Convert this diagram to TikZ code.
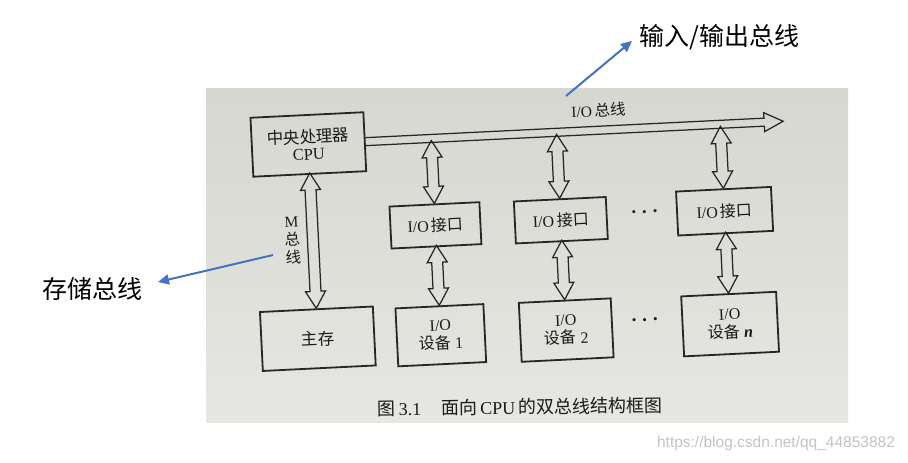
\documentclass[tikz,border=0pt]{standalone}
\usepackage{fontspec}
\setmainfont{Liberation Serif}
\newfontfamily\cjk{Noto Sans CJK SC}
\newfontfamily\wmfont{Liberation Sans}
\usetikzlibrary{calc,arrows.meta}
\definecolor{boxc}{HTML}{262626}
\definecolor{inkc}{HTML}{1A1A1A}
\definecolor{photoA}{HTML}{D7D7D1}
\definecolor{photoB}{HTML}{E6E6E2}
\definecolor{annblue}{HTML}{4472C4}
\definecolor{wmgray}{HTML}{C4C4C4}
\newcommand\setfs[2]{\fontsize{#1}{#2}\selectfont}
% hollow double-headed bus arrow, from the lower tip #1 upward over length #2
\newcommand\vbusup[2]{%
  \draw[busline] (#1) -- ++(10,17) -- ++(-4.5,0) -- ++(0,{#2-34}) -- ++(4.5,0)
    -- ++(-10,17) -- ++(-10,-17) -- ++(4.5,0) -- ++(0,{-(#2-34)}) -- ++(-4.5,0) -- cycle;}
\begin{document}
\begin{tikzpicture}[x=1pt,y=1pt,
  box/.style={draw=boxc, line width=1.8pt, inner sep=0pt, align=center,
    text=inkc, font=\setfs{16}{18}},
  busline/.style={draw=boxc, line width=1.25pt, line join=miter},
  lbl/.style={text=inkc, inner sep=0pt, align=center},
  dotsnode/.style={text=inkc, inner sep=0pt, font=\boldmath\setfs{22}{22}},
  annot/.style={draw=annblue, line width=2pt, -{Triangle[length=11pt,width=10pt]}},
  anntext/.style={inner sep=0pt, text=black, font=\cjk\setfs{25}{25}},
]
\useasboundingbox (0,0) rectangle (908,-463);
\fill[white] (0,0) rectangle (908,-463);
\shade[top color=photoA, bottom color=photoB] (206,-88) rectangle (848,-422);

\begin{scope}[rotate around={2.8:(525,-245)}, transform shape]
  % nodes
  \node[box, minimum width=113pt, minimum height=59pt, font=\setfs{16.5}{17}] (cpu) at (313.5,-134)
    {{\cjk 中央处理器}\\CPU};
  \node[box, minimum width=113pt, minimum height=59pt, font=\cjk\setfs{16.5}{18}] (mem) at (313.5,-328.5) {主存};
  \node[box, minimum width=90pt, minimum height=42pt] (if1) at (436.5,-221) {I/O\,{\cjk 接口}};
  \node[box, minimum width=92pt, minimum height=42pt] (if2) at (562,-222) {I/O\,{\cjk 接口}};
  \node[box, minimum width=95pt, minimum height=44pt] (if3) at (726,-221) {I/O\,{\cjk 接口}};
  \node[box, minimum width=88pt, minimum height=58pt] (dev1) at (436.5,-331) {I/O\\{\cjk 设备}~1};
  \node[box, minimum width=92pt, minimum height=59pt] (dev2) at (562,-332) {I/O\\{\cjk 设备}~2};
  \node[box, minimum width=95pt, minimum height=60pt] (devn) at (726,-334) {I/O\\{\cjk 设备}~\textbf{\textit{n}}};
  \node[dotsnode] (dots1) at (646,-218) {$\cdots$};
  \node[dotsnode] (dots2) at (641,-326) {$\cdots$};
  \node[lbl, font=\setfs{15.5}{15}] (iolbl) at (605,-114) {I/O\,{\cjk 总线}};
  \node[lbl, font=\setfs{15.5}{18}] (mlbl) at (293,-229) {M\\{\cjk 总}\\{\cjk 线}};
  % I/O bus
  \draw[busline] (cpu.east) ++(0,4) -- ++(399,0) -- ++(0,5.5) -- ++(19,-9.5)
    -- ++(-19,-9.5) -- ++(0,5.5) -- ++(-399,0);
  % M bus
  \vbusup{mem.north}{135.5}
  % bus to interfaces
  \vbusup{if1.north}{63}
  \vbusup{if2.north}{64}
  \vbusup{if3.north}{62}
  % interfaces to devices
  \vbusup{dev1.north}{60}
  \vbusup{dev2.north}{59.5}
  \vbusup{devn.north}{61}
\end{scope}

% caption (photographed with less tilt)
\node[lbl, font=\setfs{18}{18}, rotate=0.8] (cap) at (520,-407)
  {{\cjk 图}\,3.1\hspace{20pt}{\cjk 面向}\,CPU\,{\cjk 的双总线结构框图}};

% annotations
\node[anntext, anchor=west] (ioann) at (639,-37) {输入/输出总线};
\node[anntext, anchor=west] (memann) at (42,-289) {存储总线};
\coordinate (ioA) at (566,-96);
\coordinate (ioB) at (632,-41);
\coordinate (memA) at (273,-255);
\coordinate (memB) at (158,-282);
\draw[annot] (ioA) -- (ioB);
\draw[annot] (memA) -- (memB);

\node[inner sep=0pt, text=wmgray, font=\wmfont\setfs{15.5}{16}] (wm) at (776,-443)
  {https://blog.csdn.net/qq\_44853882};
\end{tikzpicture}
\end{document}
